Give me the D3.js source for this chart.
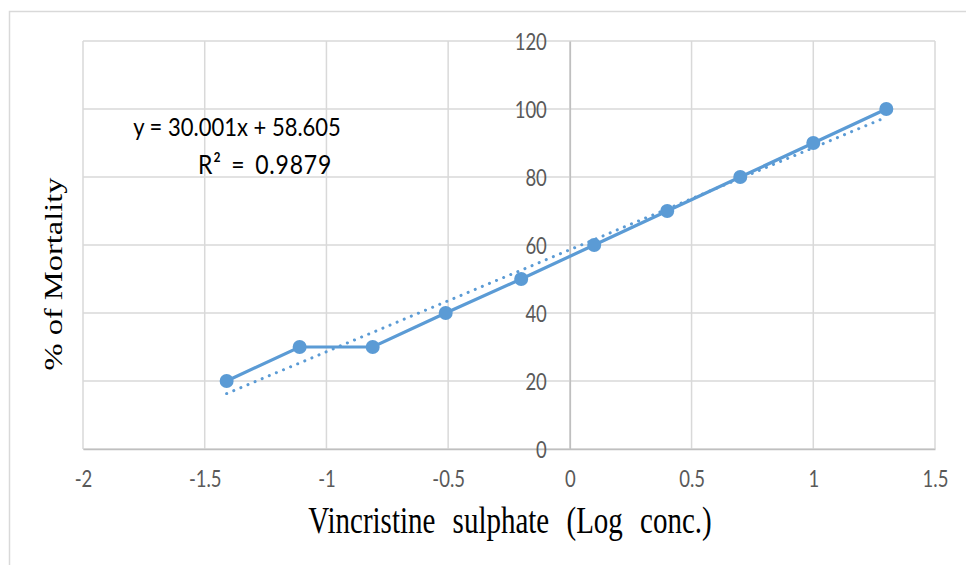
<!DOCTYPE html>
<html>
<head>
<meta charset="utf-8">
<script src="https://cdn.jsdelivr.net/npm/d3@7"></script>
<style>
  body { margin: 0; background: #fff; }
</style>
</head>
<body>
<script>
// log concentration and % mortality
var logConc = [-1.41, -1.11, -0.81, -0.51, -0.2, 0.1, 0.4, 0.7, 1, 1.3];
var mortality = [20, 30, 30, 40, 50, 60, 70, 80, 90, 100];
var xTicks = [-2, -1.5, -1, -0.5, 0, 0.5, 1, 1.5];
var yTicks = [0, 20, 40, 60, 80, 100, 120];
// linear trendline from the chart label
var slope = 30.001, intercept = 58.605, rSquared = 0.9879;

var width = 966, height = 565;
var svg = d3.select("body").append("svg")
  .attr("width", width)
  .attr("height", height);

var sansFont = "Lato, 'Liberation Sans', sans-serif",
    serifFont = "'Liberation Serif', 'Times New Roman', serif";

//outer chart frame
svg.append("rect")
  .attr("x", 9.5).attr("y", 11.5)
  .attr("width", 970).attr("height", 570)
  .attr("fill", "none").attr("stroke", "#d9d9d9").attr("stroke-width", 1.5);

var x = d3.scaleLinear().domain([-2, 1.5]).range([83, 935]);
var y = d3.scaleLinear().domain([0, 120]).range([449, 41]);

//gridlines
svg.selectAll(".vgrid").data(xTicks).enter().append("line")
  .attr("x1", d => x(d)).attr("x2", d => x(d))
  .attr("y1", y(0)).attr("y2", y(120))
  .attr("stroke", "#d9d9d9").attr("stroke-width", 1.5);
svg.selectAll(".hgrid").data(yTicks).enter().append("line")
  .attr("x1", x(-2)).attr("x2", x(1.5))
  .attr("y1", d => y(d)).attr("y2", d => y(d))
  .attr("stroke", "#d9d9d9").attr("stroke-width", 1.5);

//axes crossing at 0
var xAxis = svg.append("g").attr("transform", "translate(0," + y(0) + ")")
  .call(d3.axisBottom(x).tickValues(xTicks).tickSize(0).tickFormat(d => d));
xAxis.select(".domain").attr("stroke", "#bfbfbf").attr("stroke-width", 1.5);
xAxis.selectAll(".tick text")
  .attr("x", 0).attr("y", 0).attr("dy", null)
  .attr("transform", "translate(0,38) scale(1,1.2)");

var yAxis = svg.append("g").attr("transform", "translate(" + x(0) + ",0)")
  .call(d3.axisLeft(y).tickValues(yTicks).tickSize(0));
yAxis.select(".domain").attr("stroke", "#bfbfbf").attr("stroke-width", 1.5);
yAxis.selectAll(".tick text")
  .attr("x", 0).attr("y", 0).attr("dy", null)
  .attr("transform", "translate(-23,8) scale(1,1.2)");

svg.selectAll(".tick text")
  .attr("font-family", sansFont).attr("font-size", 18.5).attr("fill", "#595959");

//trendline (dotted)
var x0 = d3.min(logConc), x1 = d3.max(logConc);
svg.append("line")
  .attr("x1", x(x0)).attr("y1", y(slope * x0 + intercept))
  .attr("x2", x(x1)).attr("y2", y(slope * x1 + intercept))
  .attr("stroke", "#5b9bd5").attr("stroke-width", 3)
  .attr("stroke-dasharray", "0.1,7.6").attr("stroke-linecap", "round");

//data line and markers
var pts = logConc.map((v, i) => [v, mortality[i]]);
svg.append("path")
  .datum(pts)
  .attr("d", d3.line().x(d => x(d[0])).y(d => y(d[1])))
  .attr("fill", "none").attr("stroke", "#5b9bd5").attr("stroke-width", 3.2);
svg.selectAll(".pt").data(pts).enter().append("circle")
  .attr("cx", d => x(d[0])).attr("cy", d => y(d[1])).attr("r", 7)
  .attr("fill", "#5b9bd5");

//equation label
svg.append("text")
  .attr("transform", "translate(237,136) scale(1,1.15)")
  .attr("font-family", sansFont).attr("font-size", 22)
  .attr("text-anchor", "middle")
  .text("y = " + slope.toFixed(3) + "x + " + intercept.toFixed(3));
svg.append("text")
  .attr("transform", "translate(265,174) scale(1,1.15)")
  .attr("font-family", sansFont).attr("font-size", 23)
  .attr("letter-spacing", 0.8).attr("word-spacing", 3)
  .attr("text-anchor", "middle")
  .text("R² = " + rSquared);

//axis titles
svg.append("text")
  .attr("transform", "translate(510,533) scale(1,1.3)")
  .attr("text-anchor", "middle")
  .attr("font-family", serifFont)
  .attr("font-size", 29).attr("word-spacing", 10)
  .text("Vincristine sulphate (Log conc.)");
svg.append("text")
  .attr("transform", "translate(62,274) rotate(-90)")
  .attr("text-anchor", "middle")
  .attr("font-family", serifFont)
  .attr("font-size", 25)
  .attr("textLength", 193).attr("lengthAdjust", "spacingAndGlyphs")
  .text("% of Mortality");
</script>
</body>
</html>
